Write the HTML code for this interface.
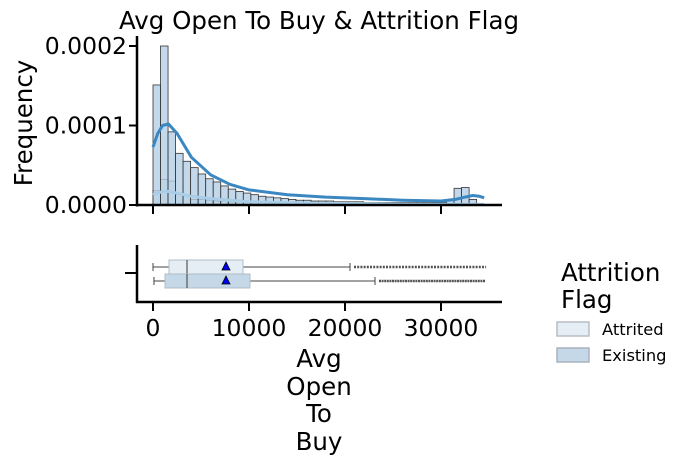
<!DOCTYPE html>
<html><head><meta charset="utf-8"><style>
body{margin:0;background:#fff}
svg{display:block;font-family:"DejaVu Sans","Liberation Sans",sans-serif}
</style></head><body>
<svg id="chart" width="684" height="465" viewBox="0 0 684 465">
<text x="319" y="29" font-size="24.5" text-anchor="middle">Avg Open To Buy &amp; Attrition Flag</text>
<g id="hist"></g>
<g id="box"></g>
<text transform="translate(32,123) rotate(-90)" font-size="24.5" text-anchor="middle">Frequency</text>
<g font-size="24.5" text-anchor="middle">
<text x="319" y="367">Avg</text><text x="319" y="395">Open</text><text x="319" y="422">To</text><text x="319" y="450">Buy</text>
</g>
<g>
<text x="561" y="281" font-size="24.5">Attrition</text>
<text x="561" y="308" font-size="24.5">Flag</text>
<rect x="557" y="322" width="32" height="14" fill="#e6eef5" stroke="#b8bec4" stroke-width="1.5"/>
<text x="602" y="335" font-size="16.3">Attrited</text>
<rect x="557" y="348" width="32" height="14" fill="#c5d8e8" stroke="#a8b3bd" stroke-width="1.5"/>
<text x="602" y="361" font-size="16.3">Existing</text>
</g>
</svg>
<script>
// Data (frequency values in units of 1e-6)
const binWidth = 784;
const existingFreq = [151,200,92,65,55,47,39,33,29,24,20,17,15,13,11,10,9,8,7,6,6,5,5,5,4,4,4,4,3,3,3,3,3,3,3,3,3,3,3,6,21,22,7,0];
const attritedFreq = [18,32,30,13,13,7,7,6,5,5,4,4,3,3,3,2,2,2,2,2,2,2,1,1,1,1,1,1,1,1,1,1,1,1,1,1,1,1,1,1,1,1,1,0];
const kdeX = [0,500,1000,1600,2500,4000,6000,8000,10000,14000,18000,22000,26000,30000,31500,32500,33300,34000,34500];
const kdeExisting = [73,90,100,102,90,60,38,26,19,13,10,8,6,5,7,10,12,11,9];
const kdeAttrited = [13,15,17,17,15,11,8,6,4,3,2,1.5,1,0.8,0.8,0.8,0.8,0.8,0.8];
const yTicks = [0,100,200];
const yTickLabels = ["0.0000","0.0001","0.0002"];
const xTicks = [0,10000,20000,30000];
const xTickLabels = ["0","10000","20000","30000"];
const boxGroups = ["Attrited","Existing"];
const boxWhiskLo = [0,100];
const boxQ1 = [1667,1250];
const boxMedian = [3542,3542];
const boxQ3 = [9375,10100];
const boxWhiskHi = [20521,23125];
const boxMean = [7604,7604];
const outlierMax = [34700,34600];

const NS="http://www.w3.org/2000/svg";
const sx = v => 153 + v/10000*96;
const sy = v => 205 - v/100*79.5;
function mk(parent,tag,attrs){const e=document.createElementNS(NS,tag);for(const k in attrs)e.setAttribute(k,attrs[k]);parent.appendChild(e);return e;}
const hist=document.getElementById('hist'), box=document.getElementById('box');

attritedFreq.forEach((v,i)=>{ if(!v) return;
  const r=mk(hist,'rect',{x:sx(i*binWidth),y:sy(v),width:sx(binWidth)-sx(0),height:sy(0)-sy(v),fill:'#dae6f1',stroke:'#333','stroke-width':0.8});
  
  
});
existingFreq.forEach((v,i)=>{ if(!v) return;
  const r=mk(hist,'rect',{x:sx(i*binWidth),y:sy(v),width:sx(binWidth)-sx(0),height:sy(0)-sy(v),fill:'rgba(180,208,230,0.8)',stroke:'#333','stroke-width':0.8});
  
  
});
function kde(vals,color,name){
  let d='';kdeX.forEach((x,i)=>{d+=(i?'L':'M')+sx(x).toFixed(1)+','+sy(vals[i]).toFixed(1);});
  const p=mk(hist,'path',{d:d,fill:'none',stroke:color,'stroke-width':3,'stroke-linejoin':'round'});
  
  
}
kde(kdeAttrited,'#a9cde6','kde-attrited');
kde(kdeExisting,'#3a87c2','kde-existing');
mk(hist,'line',{x1:137,y1:36,x2:137,y2:206.5,stroke:'#000','stroke-width':2.5});
mk(hist,'line',{x1:136,y1:205,x2:502,y2:205,stroke:'#000','stroke-width':2.5});
yTicks.forEach((t,i)=>{
  mk(hist,'line',{x1:129,y1:sy(t),x2:137,y2:sy(t),stroke:'#000','stroke-width':2});
  const tx=mk(hist,'text',{x:127,y:sy(t)+8,'font-size':23.5,'text-anchor':'end'});tx.textContent=yTickLabels[i];
  
  
});
xTicks.forEach(t=>{ mk(hist,'line',{x1:sx(t),y1:205,x2:sx(t),y2:214,stroke:'#000','stroke-width':2}); });

const rowY=[260,274], rowH=14, fills=['#e6eef5','#c5d8e8'];
boxGroups.forEach((g,i)=>{
  const cy=rowY[i]+rowH/2;
  mk(box,'line',{x1:sx(boxWhiskLo[i]),y1:cy,x2:sx(boxQ1[i]),y2:cy,stroke:'#444','stroke-width':1});
  mk(box,'line',{x1:sx(boxQ3[i]),y1:cy,x2:sx(boxWhiskHi[i]),y2:cy,stroke:'#444','stroke-width':1});
  mk(box,'line',{x1:sx(boxWhiskLo[i]),y1:cy-4,x2:sx(boxWhiskLo[i]),y2:cy+4,stroke:'#444','stroke-width':1});
  mk(box,'line',{x1:sx(boxWhiskHi[i]),y1:cy-4,x2:sx(boxWhiskHi[i]),y2:cy+4,stroke:'#444','stroke-width':1});
  const r=mk(box,'rect',{x:sx(boxQ1[i]),y:rowY[i],width:sx(boxQ3[i])-sx(boxQ1[i]),height:rowH,fill:fills[i],stroke:'#b0bcc6','stroke-width':1});
  
  
  mk(box,'line',{x1:sx(boxMedian[i]),y1:rowY[i],x2:sx(boxMedian[i]),y2:rowY[i]+rowH,stroke:'#555','stroke-width':1.2});
  const o=mk(box,'line',{x1:sx(boxWhiskHi[i])+4,y1:cy,x2:sx(outlierMax[i]),y2:cy,stroke:'#555','stroke-width':2.5,'stroke-dasharray':i?'2,0.6':'2,1.2'});
  
  
  const mx=sx(boxMean[i]);
  const m=mk(box,'polygon',{points:`${mx},${cy-5} ${mx-4},${cy+3} ${mx+4},${cy+3}`,fill:'#0000ee',stroke:'#000','stroke-width':0.8});
  
  
});
mk(box,'line',{x1:137,y1:245,x2:137,y2:303,stroke:'#000','stroke-width':2.5});
mk(box,'line',{x1:136,y1:302,x2:502,y2:302,stroke:'#000','stroke-width':2.5});
mk(box,'line',{x1:125,y1:273,x2:137,y2:273,stroke:'#000','stroke-width':2});
xTicks.forEach((t,i)=>{
  mk(box,'line',{x1:sx(t),y1:302,x2:sx(t),y2:311,stroke:'#000','stroke-width':2});
  const tx=mk(box,'text',{x:sx(t),y:336,'font-size':23.5,'text-anchor':'middle'});tx.textContent=xTickLabels[i];
  
  
});
</script>
</body></html>
